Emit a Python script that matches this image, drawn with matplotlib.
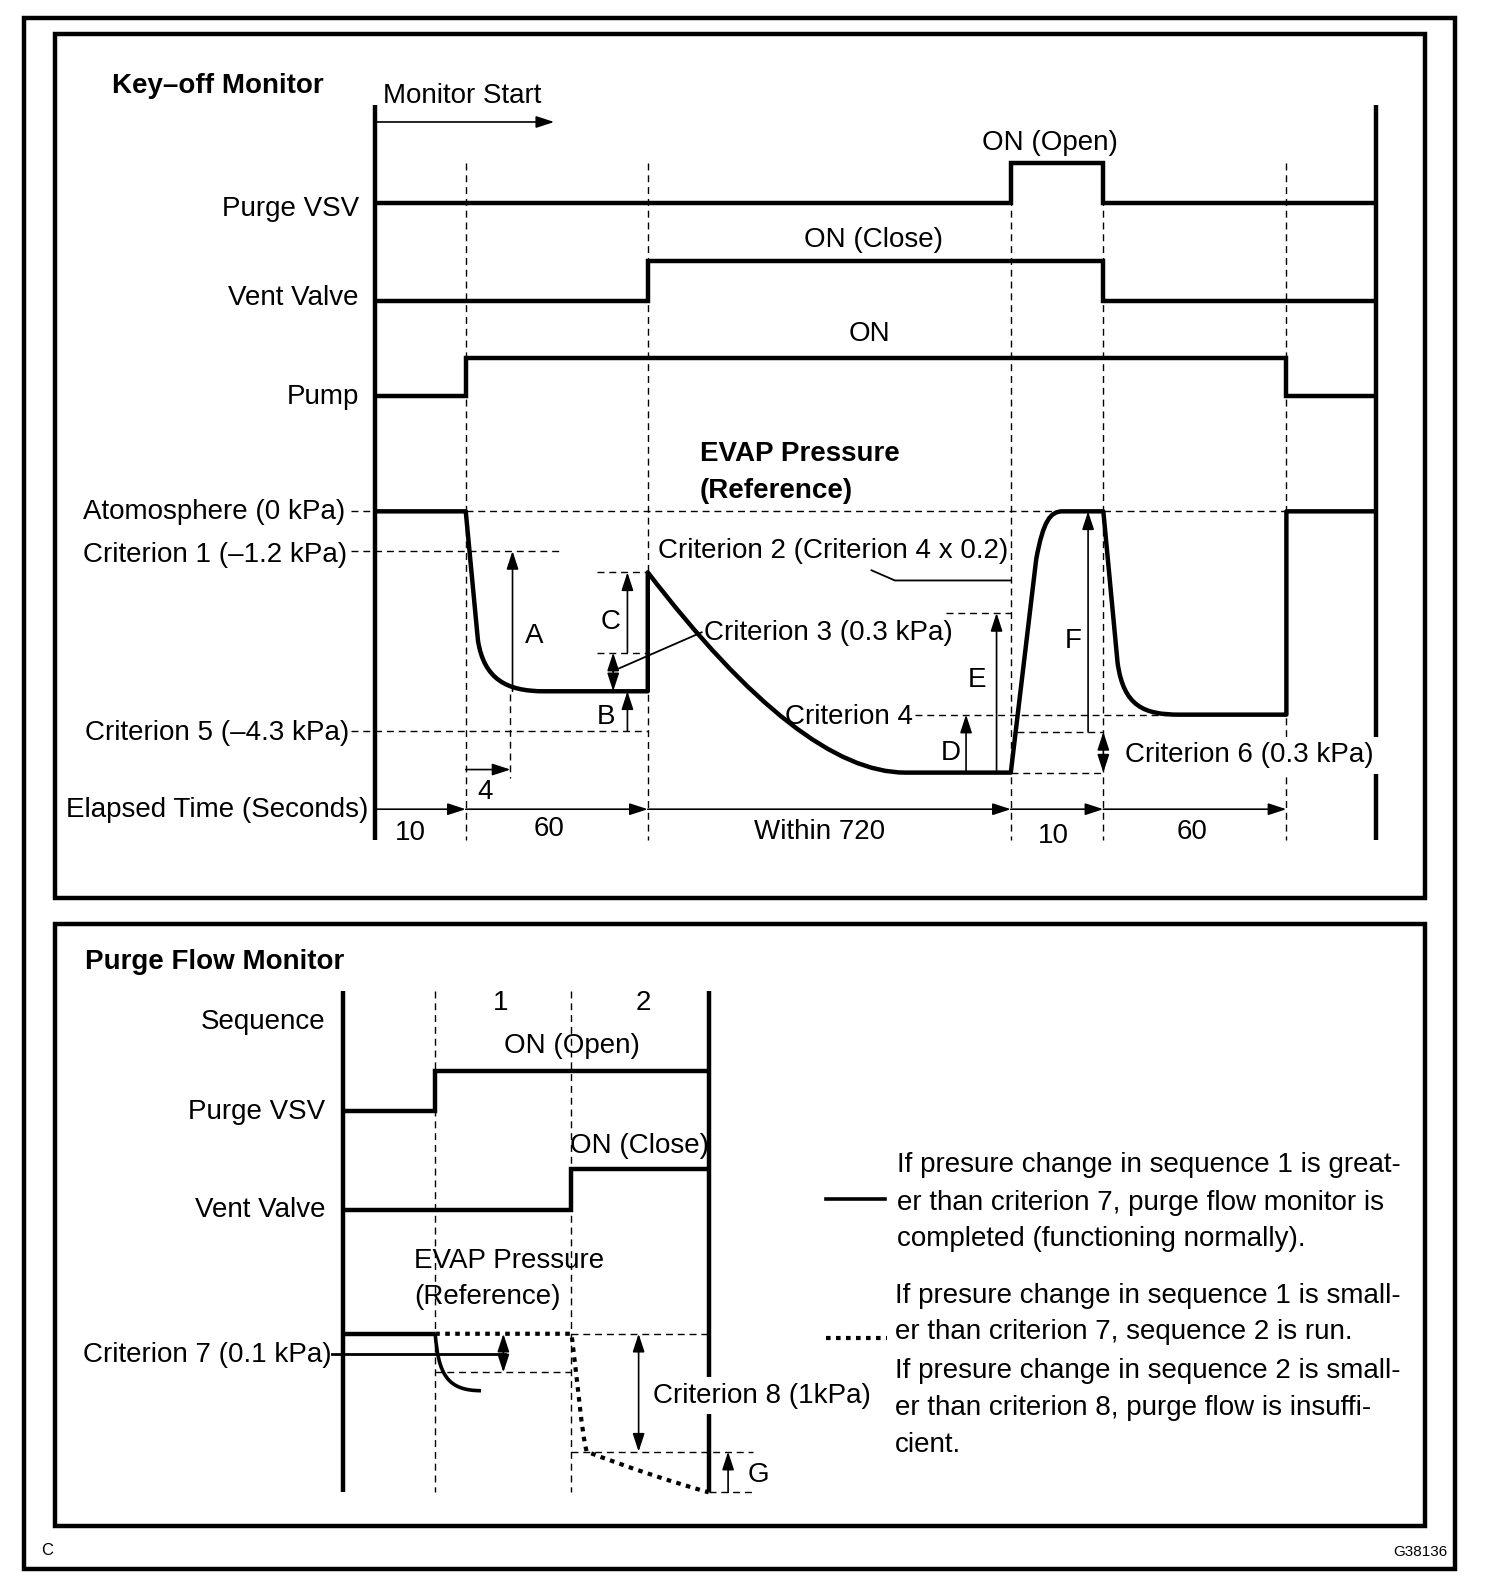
import matplotlib.pyplot as plt
from matplotlib.patches import Rectangle, PathPatch
from matplotlib.path import Path

plt.rcParams['font.family'] = ['Liberation Sans', 'DejaVu Sans']

# drawing units follow the reference picture (1479 x 1568), y downwards
W, H = 1479, 1568

# ---------------- key-off monitor ----------------
axis_x = 369
end_x = 1353
event_x = [458, 637, 994, 1085, 1265]
seg_labels = ['10', '60', 'Within 720', '10', '60']
seg_label_x = [404, 540, 806, 1036, 1172]
seg_label_y = [816, 812, 815, 819, 815]

signal_names = ['Purge VSV', 'Vent Valve', 'Pump']
signal_label_y = [203, 290, 388]
signal_low = [200, 296, 390]
signal_high = [160, 257, 352]
signal_on = [(994, 1085), (637, 1085), (458, 1265)]
signal_on_text = ['ON (Open)', 'ON (Close)', 'ON']
signal_on_text_x = [1032, 859, 855]
signal_on_text_y = [138, 233, 326]

# pressure levels
lvl_atm = 503
lvl_crit1 = 542
lvl_crit5 = 719
lvl_hold1 = 680
lvl_c_top = 563
lvl_c_bot = 642
lvl_min = 760
lvl_crit4 = 703
lvl_e_top = 603
lvl_f_bot = 720
lvl_crit2 = 571

# EVAP pressure trace (key-off): M=move, L=line, C=cubic bezier (3 pts), Q=quadratic (2 pts)
press_codes = ['M', 'L', 'L', 'C', 'C', 'C', 'L', 'L', 'Q', 'Q', 'L',
               'L', 'C', 'C', 'C', 'L', 'L', 'C', 'C', 'C', 'L', 'L', 'L']
press_x = [369, 458, 470, 476, 498, 535, 637, 637, 788, 890, 994,
           1019, 1026, 1033, 1045, 1085, 1099, 1105, 1125, 1160, 1265, 1265, 1353]
press_y = [503, 503, 630, 668, 680, 680, 680, 563, 760, 760, 760,
           550, 512, 503, 503, 503, 652, 695, 703, 703, 703, 503, 503]

# ---------------- purge flow monitor ----------------
p_axis_x = 337
p_end_x = 697
p_event_x = [428, 562]
seq_labels = ['1', '2']
seq_label_x = [492, 633]
p_names = ['Sequence', 'Purge VSV', 'Vent Valve']
p_label_y = [1002, 1091, 1187]
p_low = [1093, 1190]
p_high = [1054, 1150]
p_on_x = [428, 562]
p_on_text = ['ON (Open)', 'ON (Close)']
p_on_text_x = [562, 629]
p_on_text_y = [1026, 1124]

lvl_p0 = 1312
lvl_crit7 = 1332
lvl_p1 = 1350
lvl_p8 = 1428
lvl_pmin = 1468

ok_codes = ['M', 'C', 'C', 'C']
ok_x = [428, 431, 440, 473]
ok_y = [1312, 1352, 1368, 1368]
bad_codes = ['M', 'L', 'C', 'C', 'C', 'Q', 'Q']
bad_x = [428, 562, 568, 572, 577, 640, 697]
bad_y = [1312, 1312, 1360, 1410, 1428, 1452, 1468]

legend_ok = ['If presure change in sequence 1 is great-',
             'er than criterion 7, purge flow monitor is',
             'completed (functioning normally).']
legend_bad = ['If presure change in sequence 1 is small-',
              'er than criterion 7, sequence 2 is run.',
              'If presure change in sequence 2 is small-',
              'er than criterion 8, purge flow is insuffi-',
              'cient.']
legend_ok_y = [1143, 1180, 1216]
legend_bad_y = [1272, 1307, 1346, 1382, 1418]

FS = 20
THICK = 3.2
DASH = dict(color='black', lw=1.0, ls=(0, (5, 3.5)))
DOTS = (0, (1.1, 1.3))
TEXT_DY = 3
CODE_MAP = {'M': Path.MOVETO, 'L': Path.LINETO, 'C': Path.CURVE4, 'Q': Path.CURVE3}


def curve(xs, ys, codes, lw, ls='-'):
    path = Path(list(zip(xs, ys)), [CODE_MAP[c] for c in codes])
    ax.add_patch(PathPatch(path, fill=False, lw=lw, ls=ls, edgecolor='black',
                           joinstyle='round', capstyle='butt'))


def arrow(x0, y0, x1, y1, style='-|>'):
    ax.annotate('', xy=(x1, y1), xytext=(x0, y0),
                arrowprops=dict(arrowstyle=style + ',head_length=0.55,head_width=0.18',
                                mutation_scale=20, lw=1.2, color='black',
                                shrinkA=0, shrinkB=0))


def label(x, y, s, ha='left', bold=False, size=FS, box=False):
    kw = {}
    if box:
        kw['bbox'] = dict(facecolor='white', edgecolor='none', pad=4)
    ax.text(x, y + TEXT_DY, s, ha=ha, va='center', fontsize=size,
            fontweight='bold' if bold else 'normal', **kw)


fig = plt.figure(figsize=(15.04, 15.94), dpi=100)
ax = fig.add_axes([0, 0, 1, 1])
ax.set_xlim(0, W)
ax.set_ylim(H, 0)
ax.axis('off')

# frames
for (x0, y0, x1, y1) in [(24, 18, 1431, 1543), (54, 33, 1401, 883), (54, 909, 1401, 1501)]:
    ax.add_patch(Rectangle((x0, y0), x1 - x0, y1 - y0, fill=False, lw=THICK,
                           edgecolor='black', joinstyle='miter'))
label(40, 1522, 'C', size=12)
label(1423, 1524, 'G38136', ha='right', size=11)

# ---- key-off monitor ----
label(110, 82, 'Key\u2013off Monitor', bold=True)
label(377, 91, 'Monitor Start')
arrow(370, 120, 545, 120)
ax.plot([axis_x, axis_x], [103, 826], color='black', lw=THICK, solid_capstyle='butt')
ax.plot([end_x, end_x], [103, 826], color='black', lw=THICK, solid_capstyle='butt')
for x in event_x:
    ax.plot([x, x], [160, 826], **DASH)

for name, ly, lo, hi, (a, b), txt, tx, ty in zip(signal_names, signal_label_y, signal_low,
                                                 signal_high, signal_on, signal_on_text,
                                                 signal_on_text_x, signal_on_text_y):
    label(353, ly, name, ha='right')
    ax.plot([axis_x, a, a, b, b, end_x], [lo, lo, hi, hi, lo, lo], color='black',
            lw=THICK, solid_joinstyle='miter', solid_capstyle='butt')
    label(tx, ty, txt, ha='center')

label(688, 444, 'EVAP Pressure', bold=True)
label(688, 480, '(Reference)', bold=True)

label(340, 501, 'Atomosphere (0 kPa)', ha='right')
label(341, 543, 'Criterion 1 (\u20131.2 kPa)', ha='right')
label(343, 718, 'Criterion 5 (\u20134.3 kPa)', ha='right')
label(362, 794, 'Elapsed Time (Seconds)', ha='right')

ax.plot([345, axis_x], [lvl_atm, lvl_atm], **DASH)
ax.plot([event_x[0], event_x[4]], [lvl_atm, lvl_atm], **DASH)
ax.plot([345, 550], [lvl_crit1, lvl_crit1], **DASH)
ax.plot([345, event_x[1]], [lvl_crit5, lvl_crit5], **DASH)

curve(press_x, press_y, press_codes, THICK)

# A / 4 s marker
ax.plot([502, 502], [683, 765], **DASH)
arrow(504, lvl_hold1, 504, lvl_crit1)
label(525, 623, 'A', ha='center')
arrow(458, 757, 502, 757)
label(477, 776, '4', ha='center')

# C, B and criterion 3
ax.plot([587, 637], [lvl_c_top, lvl_c_top], **DASH)
ax.plot([587, 637], [lvl_c_bot, lvl_c_bot], **DASH)
arrow(617, lvl_c_bot, 617, lvl_c_top)
label(600, 609, 'C', ha='center')
arrow(603, lvl_c_bot, 603, lvl_hold1, style='<|-|>')
arrow(617, lvl_crit5, 617, lvl_hold1)
label(596, 702, 'B', ha='center')
ax.plot([603, 690], [660, 622], color='black', lw=1.3)
label(692, 620, 'Criterion 3 (0.3 kPa)')

# criterion 2
label(647, 539, 'Criterion 2 (Criterion 4 x 0.2)')
ax.plot([857, 880, event_x[2]], [561, lvl_crit2, lvl_crit2], color='black', lw=1.3)

# D, E
ax.plot([930, event_x[2]], [lvl_e_top, lvl_e_top], **DASH)
arrow(980, lvl_min, 980, lvl_e_top)
label(961, 666, 'E', ha='center')
arrow(950, lvl_min, 950, lvl_crit4)
label(935, 738, 'D', ha='center')
label(898, 702, 'Criterion 4', ha='right')
ax.plot([900, 1150], [lvl_crit4, lvl_crit4], **DASH)

# F and criterion 6
ax.plot([1000, event_x[3]], [lvl_f_bot, lvl_f_bot], **DASH)
ax.plot([event_x[2], event_x[3]], [lvl_min, lvl_min], **DASH)
arrow(1070, lvl_f_bot, 1070, lvl_atm)
label(1055, 628, 'F', ha='center')
arrow(1085, lvl_f_bot, 1085, lvl_min, style='<|-|>')
label(1106, 740, 'Criterion 6 (0.3 kPa)', box=True)

# elapsed time axis
starts = [axis_x] + event_x[:-1]
for a, b in zip(starts, event_x):
    arrow(a, 796, b, 796)
for s, x, y in zip(seg_labels, seg_label_x, seg_label_y):
    label(x, y, s, ha='center')

# ---- purge flow monitor ----
label(84, 943, 'Purge Flow Monitor', bold=True)
ax.plot([p_axis_x, p_axis_x], [975, 1468], color='black', lw=THICK, solid_capstyle='butt')
ax.plot([p_end_x, p_end_x], [975, 1468], color='black', lw=THICK, solid_capstyle='butt')
for x in p_event_x:
    ax.plot([x, x], [975, 1468], **DASH)
for name, ly in zip(p_names, p_label_y):
    label(320, ly, name, ha='right')
for s, x in zip(seq_labels, seq_label_x):
    label(x, 984, s, ha='center')
for lo, hi, x, txt, tx, ty in zip(p_low, p_high, p_on_x, p_on_text, p_on_text_x, p_on_text_y):
    ax.plot([p_axis_x, x, x, p_end_x], [lo, lo, hi, hi], color='black', lw=THICK,
            solid_joinstyle='miter', solid_capstyle='butt')
    label(tx, ty, txt, ha='center')

label(407, 1237, 'EVAP Pressure')
label(407, 1273, '(Reference)')

ax.plot([p_axis_x, p_event_x[0]], [lvl_p0, lvl_p0], color='black', lw=THICK, solid_capstyle='butt')
ax.plot([p_event_x[1], p_end_x], [lvl_p0, lvl_p0], **DASH)
label(326, 1330, 'Criterion 7 (0.1 kPa)', ha='right')
ax.plot([326, 497], [lvl_crit7, lvl_crit7], color='black', lw=2.0)
ax.plot([p_event_x[0], p_event_x[1]], [lvl_p1, lvl_p1], **DASH)
curve(ok_x, ok_y, ok_codes, 2.6)
curve(bad_x, bad_y, bad_codes, 3.0, ls=DOTS)
arrow(495, lvl_p0, 495, lvl_p1, style='<|-|>')

arrow(628, lvl_p0, 628, lvl_p8, style='<|-|>')
ax.plot([p_event_x[1], 740], [lvl_p8, lvl_p8], **DASH)
label(642, 1370, 'Criterion 8 (1kPa)', box=True)
ax.plot([p_end_x, 740], [lvl_pmin, lvl_pmin], **DASH)
arrow(716, lvl_pmin, 716, lvl_p8)
label(746, 1448, 'G', ha='center')

# legend
ax.plot([812, 870], [1179, 1179], color='black', lw=2.6)
for s, y in zip(legend_ok, legend_ok_y):
    label(882, y, s)
ax.plot([812, 872], [1316, 1316], color='black', lw=3.0, ls=DOTS)
for s, y in zip(legend_bad, legend_bad_y):
    label(880, y, s)

fig.savefig('out.png', dpi=100)
